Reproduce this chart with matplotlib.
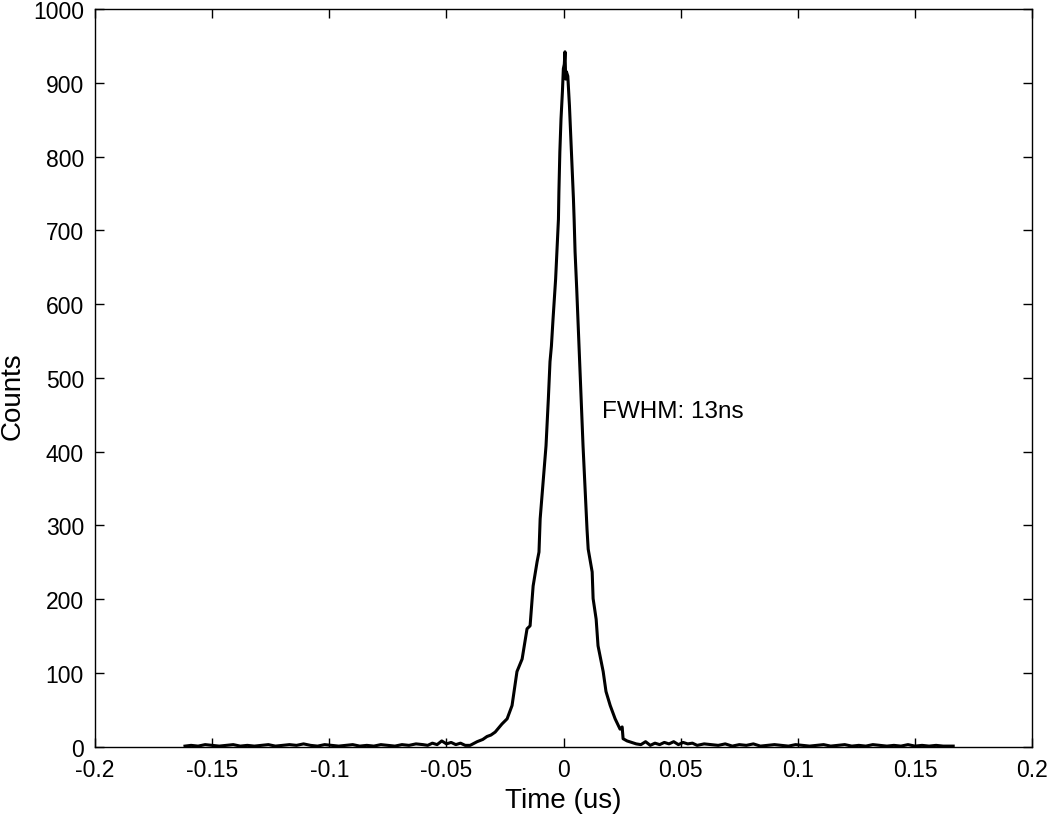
import matplotlib
matplotlib.use("Agg")
import matplotlib.pyplot as plt

plt.rcParams['font.family'] = ['Liberation Sans', 'DejaVu Sans']

# Left noise tail (time in us, counts)
left_tail_t = [-0.1616, -0.1590, -0.1560, -0.1530, -0.1500, -0.1470, -0.1440, -0.1410,
               -0.1380, -0.1350, -0.1320, -0.1290, -0.1260, -0.1230, -0.1200, -0.1170,
               -0.1140, -0.1110, -0.1080, -0.1050, -0.1020, -0.0990, -0.0960, -0.0930,
               -0.0900, -0.0870, -0.0840, -0.0810, -0.0780, -0.0750, -0.0720, -0.0690,
               -0.0660, -0.0630, -0.0600, -0.0580, -0.0560, -0.0540, -0.0520, -0.0500,
               -0.0480, -0.0460, -0.0440, -0.0420]
left_tail_c = [1, 2, 1, 3, 2, 1, 2, 3, 1, 2, 1, 2, 3, 1, 2, 3, 2, 4, 2, 1, 3, 2, 1, 2,
               3, 1, 2, 1, 3, 2, 1, 3, 2, 4, 3, 2, 5, 3, 8, 4, 6, 3, 5, 2]

# Central peak
peak_t = [-0.0399, -0.0369, -0.0345, -0.0327, -0.0310, -0.0292, -0.0263, -0.0241,
          -0.0220, -0.0199, -0.0177, -0.0156, -0.0143, -0.0130, -0.0113, -0.0105,
          -0.0100, -0.0075, -0.0065, -0.0058, -0.0052, -0.0045, -0.0034, -0.0026,
          -0.0022, -0.0020, -0.0016, -0.0011, -0.0005, -0.0001, 0.0003, 0.0006,
          0.0009, 0.0012, 0.0018, 0.0025, 0.0031, 0.0036, 0.0042, 0.0045, 0.0049,
          0.0056, 0.0063, 0.0070, 0.0075, 0.0083, 0.0100, 0.0105, 0.0122, 0.0126,
          0.0139, 0.0147, 0.0169, 0.0181, 0.0199, 0.0220, 0.0241, 0.0250, 0.0254,
          0.0271]
peak_c = [2, 7, 10, 14, 16, 20, 31, 38,
          56, 102, 119, 160, 164, 218, 251, 264,
          309, 408, 472, 522, 543, 580, 634, 688,
          715, 752, 806, 851, 888, 919, 925, 942,
          905, 915, 909, 869, 824, 787, 743, 715, 671,
          621, 566, 512, 472, 408, 295, 268, 237, 201,
          173, 137, 102, 75, 56, 38, 24, 27, 11,
          8]

# Right noise tail
right_tail_t = [0.0290, 0.0310, 0.0330, 0.0350, 0.0370, 0.0390, 0.0410, 0.0430,
                0.0450, 0.0470, 0.0490, 0.0510, 0.0530, 0.0550, 0.0570, 0.0600,
                0.0630, 0.0660, 0.0690, 0.0720, 0.0750, 0.0780, 0.0810, 0.0840,
                0.0870, 0.0900, 0.0930, 0.0960, 0.0990, 0.1020, 0.1050, 0.1080,
                0.1110, 0.1140, 0.1170, 0.1200, 0.1230, 0.1260, 0.1290, 0.1320,
                0.1350, 0.1380, 0.1410, 0.1440, 0.1470, 0.1500, 0.1530, 0.1560,
                0.1590, 0.1620, 0.1663]
right_tail_c = [6, 4, 3, 7, 2, 5, 3, 6, 4, 7, 3, 6, 4, 5, 2, 4,
                3, 2, 4, 1, 3, 2, 4, 1, 2, 3, 2, 1, 3, 2, 1, 2,
                3, 1, 2, 3, 1, 2, 1, 3, 2, 1, 2, 1, 3, 1, 2, 1,
                2, 1, 1]

t = left_tail_t + peak_t + right_tail_t
c = left_tail_c + peak_c + right_tail_c

x_ticks = [-0.2, -0.15, -0.1, -0.05, 0, 0.05, 0.1, 0.15, 0.2]
x_tick_labels = ['-0.2', '-0.15', '-0.1', '-0.05', '0', '0.05', '0.1', '0.15', '0.2']
y_ticks = [0, 100, 200, 300, 400, 500, 600, 700, 800, 900, 1000]

fig = plt.figure(figsize=(10.5, 8.2), dpi=100)
ax = fig.add_axes([0.0905, 0.088, 0.8925, 0.8998])
ax.plot(t, c, color='black', linewidth=2.2)
ax.set_xlim(-0.2, 0.2)
ax.set_ylim(0, 1000)
ax.set_xticks(x_ticks)
ax.set_xticklabels(x_tick_labels)
ax.set_yticks(y_ticks)
ax.tick_params(axis='both', direction='in', length=6.5, width=1.0, top=True, right=True,
               labelsize=16.5)
ax.tick_params(axis='x', pad=8)
ax.tick_params(axis='y', pad=8)
for s in ax.spines.values():
    s.set_linewidth(1.0)
ax.set_xlabel('Time (us)', fontsize=20, labelpad=4)
ax.set_ylabel('Counts', fontsize=20)
ax.yaxis.set_label_coords(-0.0905 + 13 / 937.0, (748 - 396) / 738.0, transform=None)
ax.yaxis.label.set_transform(fig.transFigure)
ax.yaxis.label.set_position((13 / 1050.0, 1 - 396 / 820.0))
ax.yaxis.label.set_verticalalignment('center')
ax.text(0.0162, 455, 'FWHM: 13ns', fontsize=17.5, va='center', ha='left')

fig.savefig('out.png', dpi=100)
